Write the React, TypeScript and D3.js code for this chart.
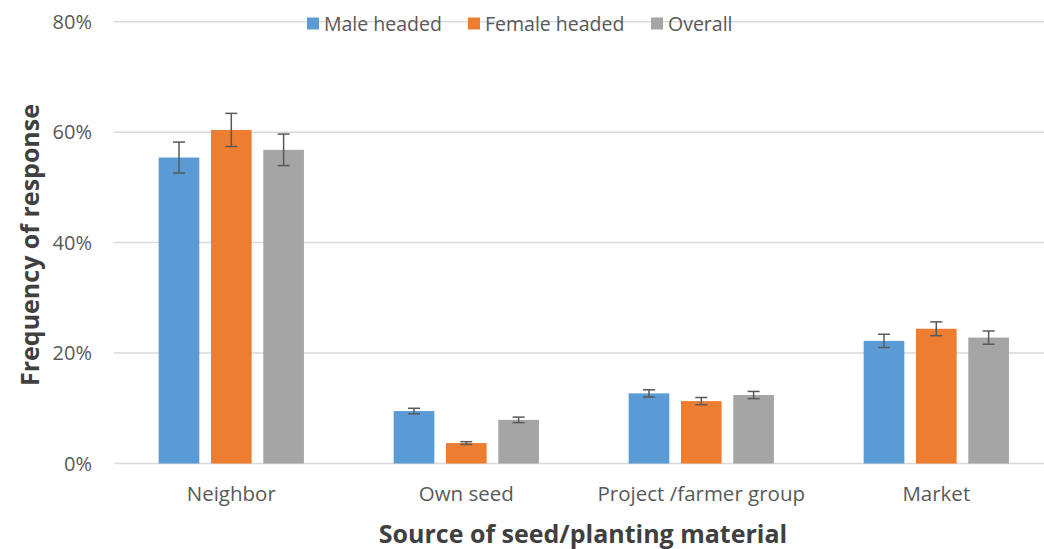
import React from "react";
import * as d3 from "d3";

const categories = ["Neighbor", "Own seed", "Project /farmer group", "Market"];
const seriesNames = ["Male headed", "Female headed", "Overall"];
const maleValues = [55.4, 9.5, 12.7, 22.2];
const femaleValues = [60.4, 3.7, 11.3, 24.4];
const overallValues = [56.8, 7.9, 12.4, 22.8];
const maleErrors = [2.8, 0.5, 0.65, 1.2];
const femaleErrors = [3.0, 0.25, 0.65, 1.25];
const overallErrors = [2.85, 0.5, 0.65, 1.2];
const yTicks = [0, 20, 40, 60, 80];
const colors = ["#5B9BD5", "#ED7D31", "#A5A5A5"];

const W = 1044;
const H = 549;
const FONT = "'Open Sans', Lato, sans-serif";

export default function App() {
  const values = [maleValues, femaleValues, overallValues];
  const errors = [maleErrors, femaleErrors, overallErrors];
  const x = d3.scaleBand<string>().domain(categories).range([113.8, 1053.8]).padding(0);
  const y = d3.scaleLinear().domain([0, 80]).range([463.5, 21.7]);
  const bw = x.bandwidth();
  const barW = bw * 0.173;
  const step = bw * 0.2226;
  const groupW = step * 2 + barW;
  const legendX = [307, 468, 651];

  return (
    <svg width={W} height={H} style={{ position: "absolute", left: 0, top: 0, background: "#fff" }} fontFamily={FONT}>
      <rect width={W} height={H} fill="#fff" />
      {yTicks.map((t) => (
        <g key={t}>
          <line x1={114} x2={W} y1={y(t)} y2={y(t)} stroke="#D9D9D9" strokeWidth={1.5} />
          <text x={92} y={y(t)} dy="0.35em" textAnchor="end" fontSize={20} fill="#595959">
            {t}%
          </text>
        </g>
      ))}
      {categories.map((c, i) => {
        const x0 = (x(c) as number) + (bw - groupW) / 2;
        return (
          <g key={c}>
            {values.map((vals, s) => {
              const bx = x0 + s * step;
              const v = vals[i];
              const e = errors[s][i];
              const cx = bx + barW / 2;
              return (
                <g key={s}>
                  <rect x={bx} y={y(v)} width={barW} height={y(0) - y(v)} fill={colors[s]} />
                  <line x1={cx} x2={cx} y1={y(v + e)} y2={y(v - e)} stroke="#595959" strokeWidth={1.5} />
                  <line x1={cx - 6} x2={cx + 6} y1={y(v + e)} y2={y(v + e)} stroke="#595959" strokeWidth={1.5} />
                  <line x1={cx - 6} x2={cx + 6} y1={y(v - e)} y2={y(v - e)} stroke="#595959" strokeWidth={1.5} />
                </g>
              );
            })}
            <text x={(x(c) as number) + bw / 2} y={494} dy="0.35em" textAnchor="middle" fontSize={20.5} fill="#595959">
              {c}
            </text>
          </g>
        );
      })}
      {seriesNames.map((n, s) => (
        <g key={n}>
          <rect x={legendX[s]} y={17.5} width={12} height={12} fill={colors[s]} />
          <text x={legendX[s] + 17} y={24} dy="0.35em" fontSize={19.5} fill="#595959">
            {n}
          </text>
        </g>
      ))}
      <text x={583} y={534} dy="0.35em" textAnchor="middle" fontSize={25} fontWeight="bold" fill="#404040">
        Source of seed/planting material
      </text>
      <text
        transform={`translate(30, 245) rotate(-90)`}
        dy="0.35em"
        textAnchor="middle"
        fontSize={25}
        fontWeight="bold"
        fill="#404040"
      >
        Frequency of response
      </text>
    </svg>
  );
}
